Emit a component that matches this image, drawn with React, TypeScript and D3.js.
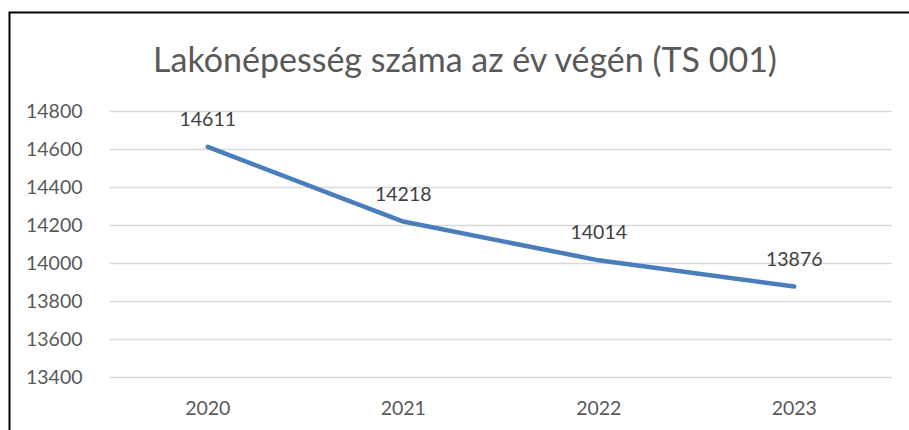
import { useEffect, useRef } from 'react';
import * as d3 from 'd3';

const years = ['2020', '2021', '2022', '2023'];
const population = [14611, 14218, 14014, 13876];
const yTicks = [13400, 13600, 13800, 14000, 14200, 14400, 14600, 14800];
const title = 'Lakónépesség száma az év végén (TS 001)';

const FONT = 'Lato, "Open Sans", sans-serif';

export default function App() {
  const svgRef = useRef<SVGSVGElement>(null);

  useEffect(() => {
    if (!svgRef.current) return;
    const width = 909;
    const height = 430;
    const margin = { top: 111, right: 17, bottom: 53, left: 110 };
    const W = width - margin.left - margin.right;
    const H = height - margin.top - margin.bottom;

    const svg = d3.select(svgRef.current);
    svg.selectAll('*').remove();
    svg.attr('width', width).attr('height', height);

    svg.append('rect').attr('width', width).attr('height', height).attr('fill', '#fff');
    // chart border (cropped right and bottom)
    svg.append('rect').attr('x', 9.5).attr('y', 12.5).attr('width', width + 20).attr('height', height + 20)
      .attr('fill', 'none').attr('stroke', '#000').attr('stroke-width', 2);

    svg.append('text').attr('x', 465).attr('y', 72).attr('text-anchor', 'middle')
      .attr('font-family', FONT).attr('font-size', '34px').attr('fill', '#595959').text(title);

    const g = svg.append('g').attr('transform', `translate(${margin.left},${margin.top})`);

    const x = d3.scaleBand<string>().domain(years).range([0, W]);
    const y = d3.scaleLinear().domain([13400, 14800]).range([H, 0]);

    g.append('g')
      .call(d3.axisLeft(y).tickValues(yTicks).tickSize(-W).tickFormat(() => ''))
      .call((gg) => {
        gg.select('.domain').remove();
        gg.selectAll('.tick line').attr('stroke', '#d9d9d9').attr('stroke-width', 1.3);
      });

    g.append('g')
      .call(d3.axisLeft(y).tickValues(yTicks).tickSize(0).tickFormat((d) => String(d)))
      .call((gg) => {
        gg.select('.domain').remove();
        gg.selectAll('text').attr('fill', '#595959').attr('font-size', '19.5px')
          .attr('font-family', FONT).attr('text-anchor', 'start').attr('x', -84).attr('dy', '0.35em');
      });

    g.append('g').attr('transform', `translate(0,${H})`)
      .call(d3.axisBottom(x).tickSize(0))
      .call((gg) => {
        gg.select('.domain').remove();
        gg.selectAll('text').attr('fill', '#595959').attr('font-size', '19.5px')
          .attr('font-family', FONT).attr('y', 38).attr('dy', 0);
      });

    const cx = (d: string) => (x(d) ?? 0) + x.bandwidth() / 2;
    const line = d3.line<number>().x((_, i) => cx(years[i])).y((d) => y(d));

    g.append('path').datum(population).attr('fill', 'none').attr('stroke', '#4a7ebb')
      .attr('stroke-width', 4.5).attr('stroke-linecap', 'round').attr('stroke-linejoin', 'round')
      .attr('d', line);

    g.selectAll('.lbl').data(population).enter().append('text')
      .attr('x', (_, i) => cx(years[i]))
      .attr('y', (d) => y(d) - 21)
      .attr('text-anchor', 'middle').attr('font-family', FONT).attr('font-size', '19.5px')
      .attr('fill', '#404040').text((d) => String(d));
  }, []);

  return (
    <div style={{ position: 'absolute', left: 0, top: 0 }}>
      <svg ref={svgRef} style={{ display: 'block' }} />
    </div>
  );
}
